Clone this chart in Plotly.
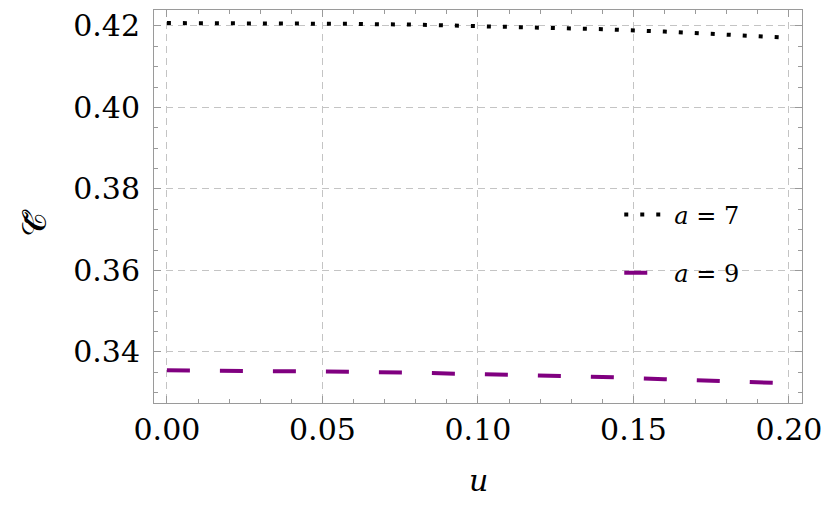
import plotly.graph_objects as go

u = [0.00, 0.02, 0.04, 0.06, 0.08, 0.10, 0.12, 0.14, 0.16, 0.18, 0.20]
c_a7 = [0.4207, 0.4207, 0.4206, 0.4205, 0.4203, 0.4200, 0.4196, 0.4192, 0.4186, 0.4179, 0.4171]
c_a9 = [0.33550, 0.33546, 0.33533, 0.33513, 0.33489, 0.33462, 0.33427, 0.33386, 0.33332, 0.33280, 0.33230]
labels = ["<i>a</i> = 7", "<i>a</i> = 9"]
x_ticks = [0.00, 0.05, 0.10, 0.15, 0.20]
x_tick_text = ["0.00", "0.05", "0.10", "0.15", "0.20"]
y_ticks = [0.34, 0.36, 0.38, 0.40, 0.42]
y_tick_text = ["0.34", "0.36", "0.38", "0.40", "0.42"]
x_title = "<i>u</i>"
y_title = "𝒞̃"

fig = go.Figure()
fig.add_trace(go.Scatter(x=u, y=c_a7, mode="lines", name=labels[0], legendgroup="g1",
                         line=dict(color="black", width=4, dash="4px,12px")))
fig.add_trace(go.Scatter(x=u, y=c_a9, mode="lines", name=labels[1], legendgroup="g2",
                         line=dict(color="#800080", width=4, dash="23px,30px")))

axis_common = dict(
    showline=True, linecolor="#9a9a9a", linewidth=1, mirror="ticks",
    ticks="inside", tickcolor="#9a9a9a", ticklen=7, tickwidth=1,
    showgrid=True, gridcolor="#c4c4c4", gridwidth=1, griddash="7px,5px",
    zeroline=False, ticklabeloverflow="allow",
    tickfont=dict(family="DejaVu Serif", size=30, color="black"),
)

fig.update_xaxes(**axis_common, range=[-0.00415, 0.2042], tickvals=x_ticks, ticktext=x_tick_text,
                 minor=dict(dtick=0.01, ticks="inside", ticklen=4, tickcolor="#9a9a9a", showgrid=False))
fig.update_yaxes(**axis_common, range=[0.32747, 0.4239], tickvals=y_ticks, ticktext=y_tick_text,
                 ticklabelstandoff=7,
                 minor=dict(dtick=0.005, ticks="inside", ticklen=4, tickcolor="#9a9a9a", showgrid=False))

fig.add_annotation(text=x_title, xref="paper", yref="paper", x=0.5, y=0, xanchor="center",
                   yanchor="middle", yshift=-77, showarrow=False,
                   font=dict(family="DejaVu Serif", size=30, color="black"))
fig.add_annotation(text=y_title, xref="paper", yref="paper", x=0, y=0.458, xanchor="center",
                   yanchor="middle", xshift=-120, textangle=-90, showarrow=False,
                   font=dict(family="DejaVu Serif", size=34, color="black"))

fig.update_layout(
    width=814, height=491,
    margin=dict(l=146, r=16, t=0, b=96),
    paper_bgcolor="white", plot_bgcolor="white",
    showlegend=True,
    legend=dict(x=0.718, y=0.405, xanchor="left", yanchor="middle", bgcolor="rgba(0,0,0,0)",
                font=dict(family="DejaVu Serif", size=24, color="black"),
                itemwidth=45,
                traceorder="grouped", tracegroupgap=24),
)

fig.write_html("out.html")
